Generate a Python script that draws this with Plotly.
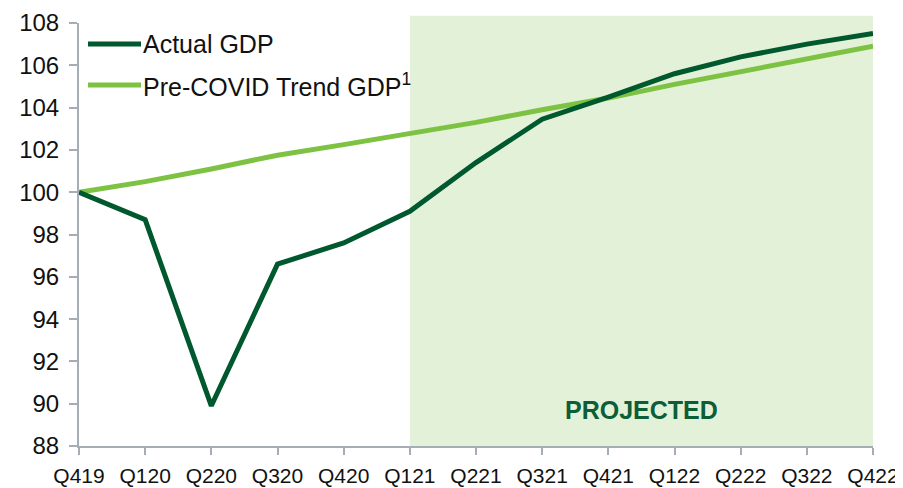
import plotly.graph_objects as go

quarters = ["Q419", "Q120", "Q220", "Q320", "Q420", "Q121", "Q221",
            "Q321", "Q421", "Q122", "Q222", "Q322", "Q422"]
actual_gdp = [100.0, 98.7, 89.9, 96.6, 97.6, 99.1, 101.4,
              103.45, 104.5, 105.6, 106.4, 107.0, 107.5]
trend_gdp = [100.0, 100.5, 101.1, 101.75, 102.25, 102.75, 103.3,
             103.9, 104.45, 105.1, 105.7, 106.35, 106.9]
y_ticks = [88, 90, 92, 94, 96, 98, 100, 102, 104, 106, 108]
projected_from = "Q121"

DARK = "#00582F"
LIGHT = "#7DC242"
SHADE = "#E3F1D9"
AXIS = "#A5AEB6"
FONT = "Liberation Sans, Arial, sans-serif"

fig = go.Figure()

fig.add_trace(go.Scatter(x=quarters, y=trend_gdp, mode="lines", name="Pre-COVID Trend GDP",
                         line=dict(color=LIGHT, width=5)))
fig.add_trace(go.Scatter(x=quarters, y=actual_gdp, mode="lines", name="Actual GDP",
                         line=dict(color=DARK, width=5)))

# projected shading
fig.add_shape(type="rect", xref="x", yref="paper",
              x0=quarters.index(projected_from), x1=len(quarters) - 1, y0=0, y1=1.017,
              fillcolor=SHADE, line_width=0, layer="below")

fig.add_annotation(x=(quarters.index(projected_from) + len(quarters) - 1) / 2, y=89.7,
                   xref="x", yref="y", text="<b>PROJECTED</b>", showarrow=False,
                   font=dict(family=FONT, size=25, color="#0B5E35"))

# legend drawn by hand (plot area is 794 x 423 px)
for i, (label, color) in enumerate([("Actual GDP", DARK),
                                    ("Pre-COVID Trend GDP<sup>1</sup>", LIGHT)]):
    ypos = 21 + i * 41
    fig.add_shape(type="line", xref="paper", yref="paper",
                  x0=9 / 794, x1=62 / 794,
                  y0=1 - ypos / 423, y1=1 - ypos / 423,
                  line=dict(color=color, width=5))
    fig.add_annotation(xref="paper", yref="paper", x=62 / 794, y=1 - ypos / 423,
                       xanchor="left", yanchor="middle", text=label, showarrow=False,
                       font=dict(family=FONT, size=25, color="#111111"))

# page body has an 8px margin, so the figure is a bit smaller than the window
fig.update_layout(
    width=895, height=480,
    margin=dict(l=71, r=30, t=15, b=42, autoexpand=False),
    plot_bgcolor="white", paper_bgcolor="white",
    showlegend=False,
    font=dict(family=FONT, size=21, color="#111111"),
)
fig.update_xaxes(
    type="category", range=[0, len(quarters) - 1], automargin=False,
    showline=True, linecolor=AXIS, linewidth=2,
    ticks="outside", ticklen=7, tickcolor=AXIS, tickwidth=2,
    ticklabelstandoff=3, showgrid=False, zeroline=False,
    tickfont=dict(size=21),
)
fig.update_yaxes(
    range=[88, 108], tickvals=y_ticks, automargin=False,
    showline=True, linecolor=AXIS, linewidth=2,
    ticks="outside", ticklen=8, tickcolor=AXIS, tickwidth=2,
    ticklabelstandoff=5, showgrid=False, zeroline=False,
    tickfont=dict(size=24),
)

fig.write_html("out.html")
